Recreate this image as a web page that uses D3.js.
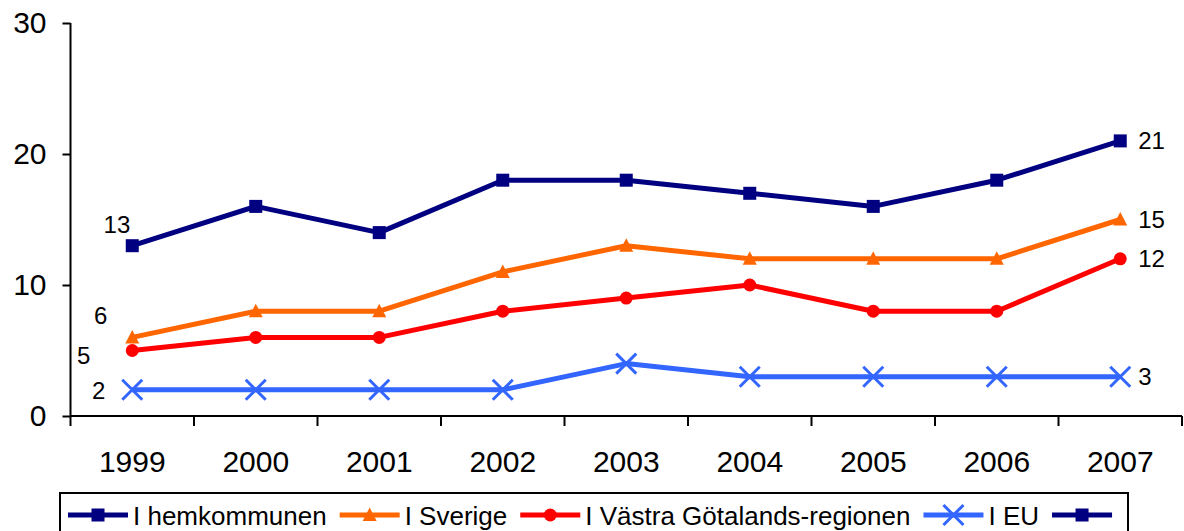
<!DOCTYPE html>
<html><head><meta charset="utf-8">
<script src="https://cdn.jsdelivr.net/npm/d3@7"></script>
<style>body{margin:0;background:#fff}svg{display:block;font-family:"Liberation Sans",Arial,sans-serif}</style>
</head><body><svg id="c" width="1184" height="531"></svg>
<script>
const years = ["1999","2000","2001","2002","2003","2004","2005","2006","2007"];
const hemkommunen = [13,16,14,18,18,17,16,18,21];
const sverige = [6,8,8,11,13,12,12,12,15];
const vgregion = [5,6,6,8,9,10,8,8,12];
const eu = [2,2,2,2,4,3,3,3,3];
const yTicks = [0,10,20,30];
const seriesNames = ["I hemkommunen","I Sverige","I Västra Götalands-regionen","I EU",""];

const series = [
  {name: seriesNames[0], values: hemkommunen, color:"#000080", marker:"square"},
  {name: seriesNames[1], values: sverige, color:"#FF6600", marker:"triangle"},
  {name: seriesNames[2], values: vgregion, color:"#FF0000", marker:"circle"},
  {name: seriesNames[3], values: eu, color:"#3366FF", marker:"x"}
];
// first-point label offsets (dx, dy) relative to the point, Excel-like manual placement
const firstLabelOffset = [[-2,-21],[-25,-22],[-42,5],[-27,1]];

const svg = d3.select("#c");
const x = d3.scaleBand().domain(years).range([70.5, 1182]);
const y = d3.scaleLinear().domain([0,30]).range([416, 23]);
const cx = d => x(d) + x.bandwidth()/2;

// Y axis
const yAxis = svg.append("g").attr("transform","translate(70.5,0)")
  .call(d3.axisLeft(y).tickValues(yTicks).tickSize(8).tickPadding(16));
yAxis.select(".domain").attr("stroke","#000").attr("stroke-width",2).attr("d","M0,23V416");
yAxis.selectAll(".tick line").attr("stroke","#000").attr("stroke-width",2);
yAxis.selectAll(".tick text").attr("font-size",30).attr("fill","#000").attr("font-family","Liberation Sans, Arial, sans-serif");

// X axis
const xg = svg.append("g").attr("transform","translate(0,416)");
xg.append("line").attr("x1",70.5).attr("x2",1182).attr("stroke","#000").attr("stroke-width",2);
const bounds = years.map(d => x(d)).concat([x.range()[1]]);
xg.selectAll("line.tk").data(bounds).enter().append("line").attr("class","tk")
  .attr("x1",d=>d).attr("x2",d=>d).attr("y1",0).attr("y2",10).attr("stroke","#000").attr("stroke-width",2);
xg.selectAll("text").data(years).enter().append("text")
  .attr("x",d=>cx(d)).attr("y",56).attr("text-anchor","middle").attr("font-size",30).attr("fill","#000").text(d=>d);

function drawMarker(g, type, color){
  if(type==="square") g.append("rect").attr("x",-6.5).attr("y",-6.5).attr("width",13).attr("height",13).attr("fill",color);
  else if(type==="triangle") g.append("path").attr("d","M0,-7.5L7,6L-7,6Z").attr("fill",color);
  else if(type==="circle") g.append("circle").attr("r",6.5).attr("fill",color);
  else if(type==="x") g.append("path").attr("d","M-10,-10L10,10M-10,10L10,-10").attr("stroke",color).attr("stroke-width",3).attr("fill","none");
}

const line = d3.line().x((d,i)=>cx(years[i])).y(d=>y(d));
series.forEach((s,si)=>{
  svg.append("path").datum(s.values).attr("d",line).attr("fill","none")
    .attr("stroke",s.color).attr("stroke-width",5).attr("stroke-linejoin","round");
  s.values.forEach((v,i)=>{
    const g = svg.append("g").attr("transform",`translate(${cx(years[i])},${y(v)})`);
    drawMarker(g, s.marker, s.color);
  });
  const n = s.values.length;
  const o = firstLabelOffset[si];
  svg.append("text").attr("x",cx(years[0])+o[0]).attr("y",y(s.values[0])+o[1]).attr("dy","0.35em")
    .attr("text-anchor","end").attr("font-size",24).attr("fill","#000").text(s.values[0]);
  svg.append("text").attr("x",cx(years[n-1])+18).attr("y",y(s.values[n-1])).attr("dy","0.35em")
    .attr("text-anchor","start").attr("font-size",24).attr("fill","#000").text(s.values[n-1]);
});

// Legend
const legendItems = series.concat([{name: seriesNames[4], color:"#000080", marker:"square"}]);
const lg = svg.append("g");
lg.append("rect").attr("x",60).attr("y",493).attr("width",1068).attr("height",50)
  .attr("fill","#fff").attr("stroke","#000").attr("stroke-width",2);
let lx = 68;
legendItems.forEach(s=>{
  lg.append("line").attr("x1",lx).attr("x2",lx+60).attr("y1",515).attr("y2",515).attr("stroke",s.color).attr("stroke-width",5);
  const mg = lg.append("g").attr("transform",`translate(${lx+30},515)`);
  drawMarker(mg, s.marker, s.color);
  const t = lg.append("text").attr("x",lx+65).attr("y",525).attr("font-size",26).attr("fill","#000").text(s.name);
  lx = lx + 65 + t.node().getComputedTextLength() + 13;
});
</script></body></html>
